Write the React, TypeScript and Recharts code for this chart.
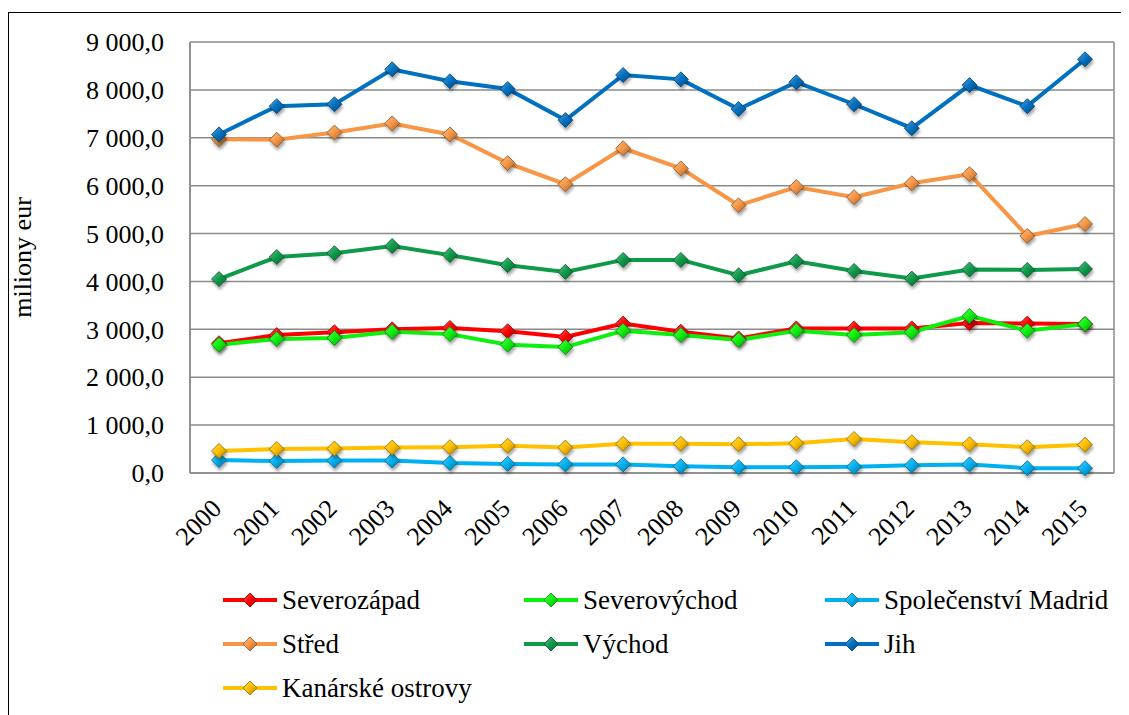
import React from 'react';
import { LineChart, Line, XAxis, YAxis, CartesianGrid } from 'recharts';

const years = ['2000', '2001', '2002', '2003', '2004', '2005', '2006', '2007', '2008', '2009', '2010', '2011', '2012', '2013', '2014', '2015'];

const severozapad = [2710, 2880, 2940, 3000, 3030, 2960, 2840, 3120, 2950, 2810, 3020, 3020, 3020, 3130, 3120, 3110];
const severovychod = [2680, 2800, 2820, 2950, 2900, 2680, 2630, 2970, 2880, 2780, 2970, 2880, 2940, 3280, 2970, 3110];
const madrid = [270, 250, 260, 260, 210, 190, 180, 180, 140, 120, 120, 130, 160, 180, 100, 100];
const stred = [6970, 6960, 7110, 7300, 7070, 6470, 6030, 6780, 6360, 5590, 5970, 5760, 6050, 6240, 4950, 5200];
const vychod = [4050, 4510, 4590, 4740, 4550, 4340, 4200, 4450, 4450, 4130, 4420, 4220, 4060, 4250, 4240, 4260];
const jih = [7070, 7660, 7700, 8430, 8180, 8020, 7370, 8310, 8220, 7600, 8160, 7700, 7200, 8100, 7660, 8640];
const kanarske = [460, 500, 510, 530, 540, 570, 530, 610, 610, 600, 620, 710, 640, 600, 540, 590];

const yTicks = [0, 1000, 2000, 3000, 4000, 5000, 6000, 7000, 8000, 9000];

const series = [
  { key: 'szap', name: 'Severozápad', color: '#FF0000', values: severozapad },
  { key: 'svych', name: 'Severovýchod', color: '#0DF00D', values: severovychod },
  { key: 'madrid', name: 'Společenství Madrid', color: '#00B0F0', values: madrid },
  { key: 'stred', name: 'Střed', color: '#F79646', values: stred },
  { key: 'vychod', name: 'Východ', color: '#0F9A4A', values: vychod },
  { key: 'jih', name: 'Jih', color: '#0070C0', values: jih },
  { key: 'kan', name: 'Kanárské ostrovy', color: '#FFC000', values: kanarske },
];

const data = years.map((year, i) => {
  const row: Record<string, string | number> = { year };
  series.forEach((s) => {
    row[s.key] = s.values[i];
  });
  return row;
});

const FONT = '"Liberation Serif", "Times New Roman", serif';

// "9 000,0" style labels
const fmt = (v: number) => {
  const s = Math.round(v).toString();
  return s.replace(/\B(?=(\d{3})+(?!\d))/g, ' ') + ',0';
};

const shade = (hex: string, amt: number) => {
  const n = parseInt(hex.slice(1), 16);
  let r = (n >> 16) & 255;
  let g = (n >> 8) & 255;
  let b = n & 255;
  const f = (c: number) => (amt >= 0 ? Math.round(c + (255 - c) * amt) : Math.round(c * (1 + amt)));
  r = f(r);
  g = f(g);
  b = f(b);
  return '#' + ((1 << 24) + (r << 16) + (g << 8) + b).toString(16).slice(1);
};

const diamondPath = (cx: number, cy: number, h: number) =>
  `M${cx},${cy - h} L${cx + h},${cy} L${cx},${cy + h} L${cx - h},${cy} Z`;

const makeDot = (key: string, color: string) => (props: any) => {
  const { cx, cy, index } = props;
  if (cx == null || cy == null) return <g key={`${key}-${index}`} />;
  return (
    <path
      key={`${key}-${index}`}
      d={diamondPath(cx, cy, 7.5)}
      fill={`url(#grad-${key})`}
      stroke={shade(color, -0.45)}
      strokeWidth={0.8}
      filter="url(#dotShadow)"
    />
  );
};

const XTick = (props: any) => {
  const { x, y, payload } = props;
  return (
    <text
      transform={`translate(${x + 4},${y + 37}) rotate(-45)`}
      textAnchor="end"
      fontFamily={FONT}
      fontSize={26}
      fill="#000"
    >
      {payload.value}
    </text>
  );
};

const ChartLegend = () => (
  <div
    style={{
      position: 'absolute',
      left: 214,
      top: 565,
      display: 'grid',
      gridTemplateColumns: '301px 301px 320px',
      gridAutoRows: '44px',
      fontFamily: FONT,
      fontSize: 27,
      color: '#000',
    }}
  >
    {series.map((s) => (
      <div key={s.key} style={{ display: 'flex', alignItems: 'center', whiteSpace: 'nowrap' }}>
        <svg width={59} height={20} style={{ flex: 'none' }}>
          <line x1={0} y1={10} x2={54} y2={10} stroke={s.color} strokeWidth={4} />
          <path d={diamondPath(27, 10, 7)} fill={`url(#grad-${s.key})`} stroke={shade(s.color, -0.45)} strokeWidth={0.8} />
        </svg>
        <span style={{ fontFamily: FONT }}>{s.name}</span>
      </div>
    ))}
  </div>
);

export default function App() {
  return (
    <div
      style={{
        marginTop: 4,
        width: 1121,
        height: 703,
        boxSizing: 'border-box',
        borderTop: '1px solid #000',
        borderLeft: '1px solid #000',
        position: 'relative',
        background: '#fff',
      }}
    >
      <svg width={0} height={0} style={{ position: 'absolute' }}>
        <defs>
          {series.map((s) => (
            <linearGradient key={s.key} id={`grad-${s.key}`} x1="0" y1="0" x2="1" y2="1">
              <stop offset="0%" stopColor={shade(s.color, 0.35)} />
              <stop offset="50%" stopColor={s.color} />
              <stop offset="100%" stopColor={shade(s.color, -0.35)} />
            </linearGradient>
          ))}
          <filter id="dotShadow" x="-50%" y="-50%" width="200%" height="200%">
            <feDropShadow dx={1} dy={3} stdDeviation={1.5} floodColor="#000" floodOpacity={0.35} />
          </filter>
        </defs>
      </svg>
      <LineChart
        width={1120}
        height={702}
        data={data}
        margin={{ top: 29, right: 15, left: 0, bottom: 142 }}
      >
        <CartesianGrid
          stroke="#8a8a8a"
          strokeWidth={1.5}
          horizontalValues={yTicks}
          verticalCoordinatesGenerator={({ offset }: any) => [offset.left, offset.left + offset.width]}
        />
        <XAxis
          dataKey="year"
          axisLine={{ stroke: '#8a8a8a', strokeWidth: 1.5 }}
          tickLine={false}
          tickSize={0}
          tickMargin={0}
          interval={0}
          height={100}
          padding={{ left: 29, right: 29 }}
          tick={<XTick />}
        />
        <YAxis
          domain={[0, 9000]}
          ticks={yTicks}
          tickFormatter={fmt}
          axisLine={{ stroke: '#8a8a8a', strokeWidth: 1.5 }}
          tickLine={false}
          tickSize={0}
          tickMargin={26}
          width={181}
          interval={0}
          tick={{ fill: '#000', fontSize: 26, fontFamily: FONT }}
          label={{
            value: 'miliony eur',
            angle: -90,
            position: 'insideLeft',
            offset: 13,
            style: { fill: '#000', fontSize: 26, fontFamily: FONT, textAnchor: 'middle' },
          }}
        />
        {series.map((s) => (
          <Line
            key={s.key}
            dataKey={s.key}
            name={s.name}
            type="linear"
            stroke={s.color}
            strokeWidth={4}
            dot={makeDot(s.key, s.color)}
            activeDot={false}
            isAnimationActive={false}
          />
        ))}
      </LineChart>
      <ChartLegend />
    </div>
  );
}
